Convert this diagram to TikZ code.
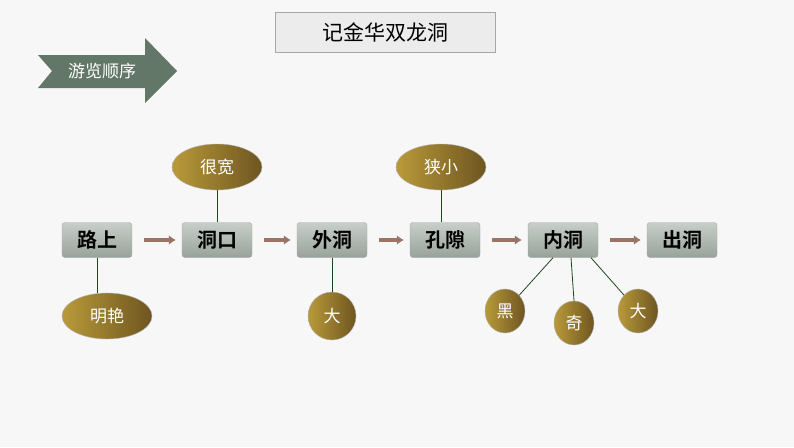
\documentclass[tikz,border=0pt]{standalone}
\usepackage{fontspec}
\newfontfamily\cjk{Noto Sans CJK SC}
\newfontfamily\cjkb{Noto Sans CJK SC Bold}
\usetikzlibrary{shapes.geometric,arrows.meta}
\definecolor{arrg}{HTML}{627767}
\definecolor{boxt}{HTML}{C8CEC9}
\definecolor{boxb}{HTML}{98A29B}
\definecolor{goldl}{HTML}{B99A3A}
\definecolor{goldr}{HTML}{6E5520}
\definecolor{flowc}{HTML}{9C7466}
\begin{document}
\begin{tikzpicture}[x=1pt,y=-1pt,
 box/.style={draw=gray!70,rounded corners=3pt,top color=boxt,bottom color=boxb,minimum width=70pt,minimum height=35pt,font=\cjkb\fontsize{20}{20}\selectfont},
 ell/.style={ellipse,draw=gray!60,left color=goldl,right color=goldr,text=white,font=\cjk\fontsize{17}{17}\selectfont,minimum width=90pt,minimum height=46pt,inner sep=0pt},
 cir/.style={ell,minimum width=48pt,minimum height=48pt},
 flow/.style={line width=3.5pt,color=flowc,-{Latex[length=7pt,width=10pt]}},
 lnk/.style={draw=gray!60!green!40!black,line width=0.8pt}]
\useasboundingbox[fill=gray!6] (0,0) rectangle (794,447);
\node[draw=gray!70,fill=gray!15,minimum width=220pt,minimum height=40pt,font=\cjk\fontsize{21}{21}\selectfont] (title) at (385,32) {记金华双龙洞};
\fill[arrg] (38,55) -- (145,55) -- (145,38) -- (177,71) -- (145,103) -- (145,88) -- (38,88) -- (52,71) -- cycle;
\node[text=white,font=\cjk\fontsize{17}{17}\selectfont] (seq) at (102,71) {游览顺序};
\node[box] (a) at (97,240) {路上};
\node[box] (b) at (217,240) {洞口};
\node[box] (c) at (332,240) {外洞};
\node[box] (d) at (445,240) {孔隙};
\node[box] (e) at (563,240) {内洞};
\node[box] (f) at (682,240) {出洞};
\foreach \u/\v in {a/b,b/c,c/d,d/e,e/f} \draw[flow] ([xshift=12pt]\u.east) -- ([xshift=-6pt]\v.west);
\node[ell] (e1) at (217,167) {很宽};
\node[ell] (e2) at (107,316) {明艳};
\node[cir] (e3) at (332,316) {大};
\node[ell] (e4) at (441,167) {狭小};
\node[cir,minimum width=40pt,minimum height=44pt] (e5) at (505,311) {黑};
\node[cir,minimum width=40pt,minimum height=44pt] (e6) at (574,323) {奇};
\node[cir,minimum width=40pt,minimum height=44pt] (e7) at (638,311) {大};
\draw[lnk] (e1) -- (b);
\draw[lnk] (a.south) -- (a.south |- e2.north);
\draw[lnk] (c) -- (e3);
\draw[lnk] (e4.south) -- (e4.south |- d.north);
\draw[lnk] ([xshift=-10pt]e.south) -- (e5);
\draw[lnk] ([xshift=8pt]e.south) -- (e6.north);
\draw[lnk] ([xshift=28pt]e.south) -- (e7);
\end{tikzpicture}
\end{document}
